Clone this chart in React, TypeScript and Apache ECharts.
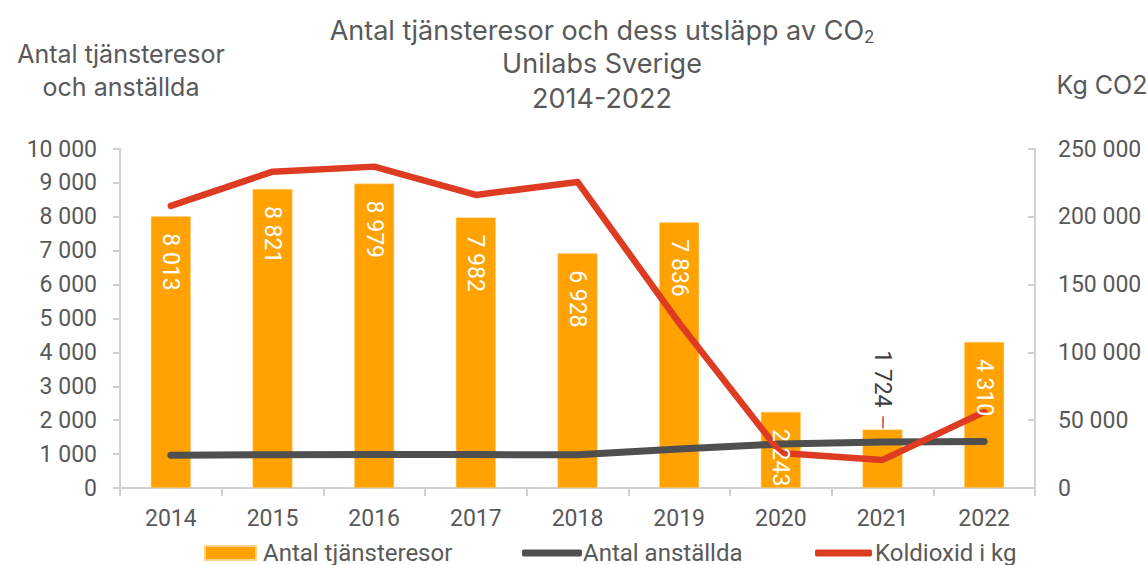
import React, { useEffect, useRef } from "react";
import * as echarts from "echarts";

const years = ["2014", "2015", "2016", "2017", "2018", "2019", "2020", "2021", "2022"];
const tjansteresor = [8013, 8821, 8979, 7982, 6928, 7836, 2243, 1724, 4310];
const anstallda = [965, 980, 990, 985, 980, 1150, 1300, 1355, 1370];
const koldioxid = [208000, 233300, 237000, 216100, 225700, 121700, 25800, 20700, 56000];

const FONT = "Roboto, 'Noto Sans', sans-serif";
const TFONT = "Inter, Roboto, sans-serif";
const TXT = "#595959";
const fmt = (v: number) => String(Math.round(v)).replace(/\B(?=(\d{3})+(?!\d))/g, " ");

export default function App() {
  const ref = useRef<HTMLDivElement>(null);
  useEffect(() => {
    document.body.style.margin = "0";
    const chart = echarts.init(ref.current!, undefined, { renderer: "svg" });
    const labelData = tjansteresor.map((v, i) =>
      years[i] === "2021"
        ? {
            value: v,
            label: {
              position: "top",
              distance: 22,
              align: "right",
              verticalAlign: "middle",
              color: "#404040",
            },
          }
        : v
    );
    const legendText = { fontFamily: FONT, fontSize: 24, color: TXT };
    chart.setOption({
      animation: false,
      textStyle: { fontFamily: FONT },
      title: [
        {
          text: "Antal tjänsteresor och dess utsläpp av CO{sub|2}",
          left: 597,
          top: 10,
          textAlign: "center",
          textStyle: {
            fontFamily: TFONT,
            fontSize: 27,
            fontWeight: "normal",
            color: TXT,
            rich: {
              sub: { fontSize: 17, color: TXT, fontFamily: TFONT, padding: [13, 0, 0, 0] },
            },
          },
        },
        {
          text: "Unilabs Sverige\n2014-2022",
          left: 597,
          top: 41,
          textAlign: "center",
          textStyle: { fontFamily: TFONT, fontSize: 27, fontWeight: "normal", color: TXT, lineHeight: 35 },
        },
        {
          text: "Antal tjänsteresor\noch anställda",
          left: 116,
          top: 32,
          textAlign: "center",
          textStyle: { fontFamily: TFONT, fontSize: 25, fontWeight: "normal", color: TXT, lineHeight: 33 },
        },
        {
          text: "Kg CO2",
          left: 1097,
          top: 67,
          textAlign: "center",
          textStyle: { fontFamily: TFONT, fontSize: 25, fontWeight: "normal", color: TXT },
        },
      ],
      legend: [
        {
          data: ["Antal tjänsteresor"],
          left: 199,
          top: 536,
          itemWidth: 51,
          itemHeight: 14,
          icon: "rect",
          textStyle: { ...legendText, padding: [0, 0, 0, 2] },
        },
        {
          data: ["Antal anställda"],
          left: 517,
          top: 536,
          itemWidth: 60,
          itemHeight: 7,
          icon: "roundRect",
          textStyle: { ...legendText, padding: [0, 0, 0, -4] },
        },
        {
          data: ["Koldioxid i kg"],
          left: 810,
          top: 536,
          itemWidth: 57,
          itemHeight: 7,
          icon: "roundRect",
          textStyle: { ...legendText, padding: [0, 0, 0, -2] },
        },
      ],
      grid: { left: 120, right: 112, top: 149, bottom: 77, containLabel: false },
      xAxis: {
        type: "category",
        data: years,
        boundaryGap: true,
        axisLine: { lineStyle: { color: "#d0d0d0", width: 2 } },
        axisTick: { show: true, length: 8, lineStyle: { color: "#d0d0d0", width: 2 } },
        axisLabel: { color: TXT, fontSize: 23, margin: 19, fontFamily: FONT },
      },
      yAxis: [
        {
          type: "value",
          min: 0,
          max: 10000,
          interval: 1000,
          axisLine: { show: true, lineStyle: { color: "#d0d0d0", width: 2 } },
          axisTick: { show: true, length: 7, lineStyle: { color: "#d0d0d0", width: 2 } },
          splitLine: { show: false },
          axisLabel: { color: TXT, fontSize: 23, margin: 23, formatter: (v: number) => fmt(v), fontFamily: FONT },
        },
        {
          type: "value",
          min: 0,
          max: 250000,
          interval: 50000,
          position: "right",
          axisLine: { show: true, lineStyle: { color: "#d0d0d0", width: 2 } },
          axisTick: { show: true, inside: true, length: 7, lineStyle: { color: "#d0d0d0", width: 2 } },
          splitLine: { show: false },
          axisLabel: { color: TXT, fontSize: 23, margin: 23, formatter: (v: number) => fmt(v), fontFamily: FONT },
        },
      ],
      series: [
        {
          name: "Antal tjänsteresor",
          type: "bar",
          data: tjansteresor,
          barWidth: 40,
          itemStyle: { color: "#FFA202", borderColor: "#FFD48A", borderWidth: 0.5 },
          z: 2,
        },
        {
          name: "Antal anställda",
          type: "line",
          data: anstallda,
          symbol: "none",
          lineStyle: { color: "#4F4F4F", width: 7, cap: "round", join: "round" },
          itemStyle: { color: "#4F4F4F" },
          z: 3,
        },
        {
          name: "Koldioxid i kg",
          type: "line",
          yAxisIndex: 1,
          data: koldioxid,
          symbol: "none",
          lineStyle: { color: "#DD3C22", width: 6.5, cap: "round", join: "round" },
          itemStyle: { color: "#DD3C22" },
          z: 4,
        },
        {
          name: "labels",
          type: "bar",
          data: labelData,
          barWidth: 40,
          barGap: "-100%",
          itemStyle: { color: "rgba(0,0,0,0)" },
          z: 10,
          silent: true,
          label: {
            show: true,
            position: "insideTop",
            distance: 17,
            rotate: -90,
            align: "left",
            verticalAlign: "middle",
            color: "#ffffff",
            fontSize: 23,
            fontFamily: FONT,
            formatter: (p: any) => fmt(p.value),
          },
          markLine: {
            silent: true,
            symbol: "none",
            label: { show: false },
            lineStyle: { color: "#DD3C22", width: 1.5, type: "solid" },
            data: [[{ coord: ["2021", 1760] }, { coord: ["2021", 2120] }]],
          },
        },
      ],
    });
    return () => chart.dispose();
  }, []);
  return <div ref={ref} style={{ width: 1147, height: 565 }} />;
}
